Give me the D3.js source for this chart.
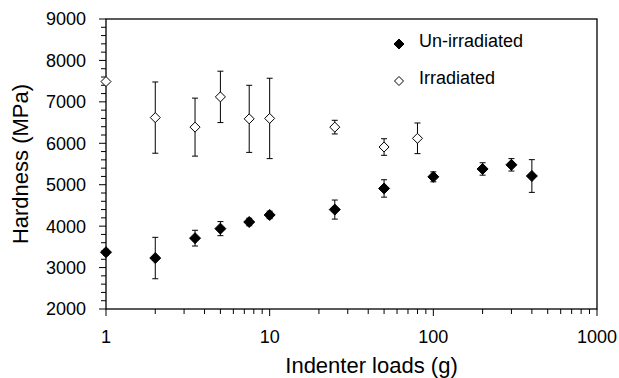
<!DOCTYPE html>
<html>
<head>
<meta charset="utf-8">
<script src="https://cdn.jsdelivr.net/npm/d3@7"></script>
<style>
  body { margin: 0; background: #fff; }
  text { font-family: "Liberation Sans", Arial, sans-serif; fill: #000; }
</style>
</head>
<body>
<svg class="chart" width="619" height="378"></svg>
<script>
// loads (g) and hardness (MPa) with error half-widths
const unLoads = [1, 2, 3.5, 5, 7.5, 10, 25, 50, 100, 200, 300, 400];
const unHard = [3370, 3230, 3710, 3940, 4100, 4270, 4400, 4910, 5190, 5380, 5480, 5210];
const unErr = [70, 500, 190, 170, 90, 90, 230, 210, 120, 150, 150, 395];

const irLoads = [1, 2, 3.5, 5, 7.5, 10, 25, 50, 80];
const irHard = [7490, 6620, 6390, 7120, 6590, 6600, 6390, 5910, 6120];
const irErr = [0, 860, 700, 620, 810, 970, 165, 200, 370];

const yTicks = [2000, 3000, 4000, 5000, 6000, 7000, 8000, 9000];
const xTicks = [1, 10, 100, 1000];

const svg = d3.select(".chart");
const margin = { left: 106, top: 19, right: 22, bottom: 69 };
const width = +svg.attr("width");
const height = +svg.attr("height");

const x = d3.scaleLog().domain([1, 1000]).range([margin.left, width - margin.right]);
const y = d3.scaleLinear().domain([2000, 9000]).range([height - margin.bottom, margin.top]);

// frame
svg.append("rect")
  .attr("x", x(1)).attr("y", y(9000))
  .attr("width", x(1000) - x(1)).attr("height", y(2000) - y(9000))
  .attr("fill", "none").attr("stroke", "#000").attr("stroke-width", 1.3);

// y axis ticks
const yMinor = d3.range(2000, 9001, 200);
svg.append("g").selectAll("line").data(yMinor).enter().append("line")
  .attr("x1", (d) => x(1) - (d % 1000 === 0 ? 7 : 5))
  .attr("x2", x(1))
  .attr("y1", (d) => y(d)).attr("y2", (d) => y(d))
  .attr("stroke", "#000").attr("stroke-width", 1);

svg.append("g").selectAll("text").data(yTicks).enter().append("text")
  .attr("x", x(1) - 20).attr("y", (d) => y(d)).attr("dy", "0.36em")
  .attr("text-anchor", "end").style("font-size", "18px")
  .text((d) => d);

// x axis ticks
const xMinor = [];
[1, 10, 100].forEach((b) => d3.range(1, 10).forEach((m) => xMinor.push(b * m)));
xMinor.push(1000);
svg.append("g").selectAll("line").data(xMinor).enter().append("line")
  .attr("x1", (d) => x(d)).attr("x2", (d) => x(d))
  .attr("y1", y(2000))
  .attr("y2", (d) => y(2000) + (xTicks.includes(d) ? 7 : 5))
  .attr("stroke", "#000").attr("stroke-width", 1);

svg.append("g").selectAll("text").data(xTicks).enter().append("text")
  .attr("x", (d) => x(d)).attr("y", 343)
  .attr("text-anchor", "middle").style("font-size", "18px")
  .text((d) => d);

// axis titles
svg.append("text")
  .attr("transform", `translate(28,${(y(2000) + y(9000)) / 2}) rotate(-90)`)
  .attr("text-anchor", "middle").style("font-size", "22px")
  .text("Hardness (MPa)");

svg.append("text")
  .attr("x", (x(1) + x(1000)) / 2 + 20).attr("y", 373)
  .attr("text-anchor", "middle").style("font-size", "22px")
  .text("Indenter loads (g)");

const diamond = (r) => `M0,${-r}L${r},0L0,${r}L${-r},0Z`;

function drawSeries(loads, hard, err, filled, r) {
  const g = svg.append("g");
  const pts = loads.map((l, i) => ({ l, h: hard[i], e: err[i] }));
  const bars = g.selectAll("g.err").data(pts.filter((d) => d.e > 0)).enter().append("g");
  bars.append("line")
    .attr("x1", (d) => x(d.l)).attr("x2", (d) => x(d.l))
    .attr("y1", (d) => y(d.h - d.e)).attr("y2", (d) => y(d.h + d.e));
  bars.append("line")
    .attr("x1", (d) => x(d.l) - 3).attr("x2", (d) => x(d.l) + 3)
    .attr("y1", (d) => y(d.h + d.e)).attr("y2", (d) => y(d.h + d.e));
  bars.append("line")
    .attr("x1", (d) => x(d.l) - 3).attr("x2", (d) => x(d.l) + 3)
    .attr("y1", (d) => y(d.h - d.e)).attr("y2", (d) => y(d.h - d.e));
  bars.selectAll("line").attr("stroke", "#000").attr("stroke-width", 1);

  g.selectAll("path").data(pts).enter().append("path")
    .attr("d", diamond(r))
    .attr("transform", (d) => `translate(${x(d.l)},${y(d.h)})`)
    .attr("fill", filled ? "#000" : "#fff")
    .attr("stroke", "#000").attr("stroke-width", 1);
}

drawSeries(irLoads, irHard, irErr, false, 5);
drawSeries(unLoads, unHard, unErr, true, 5.5);

// legend
const legend = [
  { label: "Un-irradiated", filled: true, r: 5, y: 44 },
  { label: "Irradiated", filled: false, r: 4.5, y: 81 }
];
const lg = svg.append("g").selectAll("g").data(legend).enter().append("g");
lg.append("path")
  .attr("d", (d) => diamond(d.r))
  .attr("transform", (d) => `translate(399,${d.y})`)
  .attr("fill", (d) => (d.filled ? "#000" : "#fff"))
  .attr("stroke", "#000").attr("stroke-width", 1);
lg.append("text")
  .attr("x", 419).attr("y", (d) => d.y + 3)
  .style("font-size", "18px")
  .text((d) => d.label);
</script>
</body>
</html>
